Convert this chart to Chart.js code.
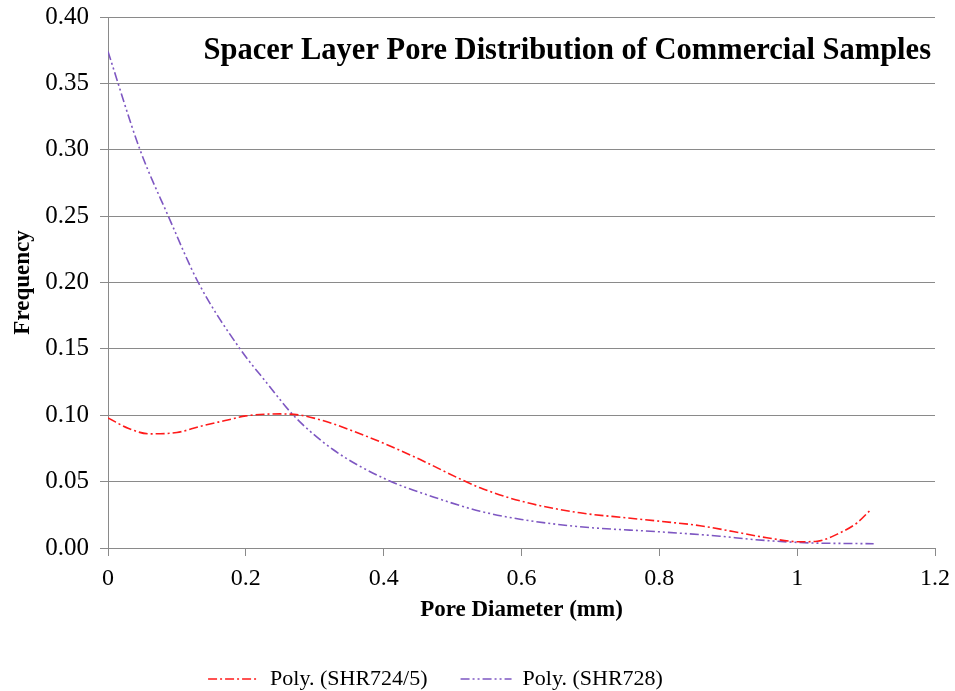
<!DOCTYPE html>
<html>
<head>
<meta charset="utf-8">
<script src="https://cdn.jsdelivr.net/npm/chart.js@4/dist/chart.umd.min.js"></script>
<style>
  html, body { margin: 0; padding: 0; background: #ffffff; }
  #wrap { width: 955px; height: 691px; }
</style>
</head>
<body>
<div id="wrap"><canvas id="c" width="955" height="691"></canvas></div>
<script>
// Polynomial trend curves of pore-size frequency for two spacer-layer samples
const chartTitle = 'Spacer Layer Pore Distribution of Commercial Samples';
const xAxisTitle = 'Pore Diameter (mm)';
const yAxisTitle = 'Frequency';
const seriesNames = ['Poly. (SHR724/5)', 'Poly. (SHR728)'];

const shr7245X = [0, 0.03, 0.06, 0.10, 0.134, 0.17, 0.20, 0.25, 0.28, 0.303, 0.33, 0.356, 0.404, 0.453, 0.511, 0.54, 0.60, 0.685, 0.753, 0.80, 0.859, 0.907, 0.956, 1.004, 1.029, 1.062, 1.087, 1.107];
const shr7245Y = [0.098, 0.090, 0.086, 0.087, 0.0917, 0.096, 0.0995, 0.101, 0.100, 0.0973, 0.093, 0.088, 0.078, 0.0666, 0.052, 0.0453, 0.0352, 0.0265, 0.0227, 0.0202, 0.0168, 0.0124, 0.0077, 0.0047, 0.0051, 0.0114, 0.019, 0.029];

const shr728X = [0, 0.0464, 0.0875, 0.131, 0.1916, 0.231, 0.269, 0.327, 0.404, 0.472, 0.54, 0.60, 0.685, 0.80, 0.888, 0.932, 1.004, 1.111];
const shr728Y = [0.374, 0.300, 0.250, 0.200, 0.150, 0.124, 0.100, 0.074, 0.0516, 0.0385, 0.0277, 0.0215, 0.016, 0.0122, 0.0089, 0.0066, 0.0041, 0.0032];

const xTickValues = [0, 0.2, 0.4, 0.6, 0.8, 1.0, 1.2];
const xTickLabels = ['0', '0.2', '0.4', '0.6', '0.8', '1', '1.2'];
const yTickValues = [0, 0.05, 0.10, 0.15, 0.20, 0.25, 0.30, 0.35, 0.40];
const yTickLabels = ['0.00', '0.05', '0.10', '0.15', '0.20', '0.25', '0.30', '0.35', '0.40'];

const serif = "'Liberation Serif', 'Times New Roman', serif";
const gridColor = '#8a8a8a';

function toPoints(xs, ys) {
  return xs.map((x, i) => ({ x: x, y: ys[i] }));
}

function labelFor(values, labels, v) {
  for (let i = 0; i < values.length; i++) {
    if (Math.abs(values[i] - v) < 1e-6) return labels[i];
  }
  return '';
}

// Title drawn inside the plot area, right-aligned near the top;
// the legend row is also nudged a little left of centre after layout.
const innerTitle = {
  id: 'innerTitle',
  afterLayout(chart) {
    const lg = chart.legend;
    if (lg) {
      lg.left -= 32;
      lg.right -= 32;
    }
  },
  afterDraw(chart) {
    const { ctx, chartArea } = chart;
    ctx.save();
    ctx.font = "bold 30.5px " + serif;
    ctx.fillStyle = '#000000';
    ctx.textAlign = 'right';
    ctx.textBaseline = 'alphabetic';
    ctx.fillText(chartTitle, chartArea.right - 4, chartArea.top + 42);
    ctx.restore();
  }
};

new Chart(document.getElementById('c'), {
  type: 'line',
  data: {
    datasets: [
      {
        label: seriesNames[0],
        data: toPoints(shr7245X, shr7245Y),
        borderColor: '#ff1a1a',
        backgroundColor: '#ff1a1a',
        borderWidth: 1.6,
        borderDash: [9, 3, 2, 3],
        pointRadius: 0,
        cubicInterpolationMode: 'monotone',
        fill: false
      },
      {
        label: seriesNames[1],
        data: toPoints(shr728X, shr728Y),
        borderColor: '#7e57c2',
        backgroundColor: '#7e57c2',
        borderWidth: 1.6,
        borderDash: [9, 3, 2, 3, 2, 3],
        pointRadius: 0,
        cubicInterpolationMode: 'monotone',
        fill: false
      }
    ]
  },
  options: {
    responsive: false,
    animation: false,
    layout: { padding: { top: 17, right: 20, left: 0, bottom: 0 } },
    plugins: {
      title: { display: false },
      tooltip: { enabled: false },
      legend: {
        display: true,
        position: 'bottom',
        maxHeight: 56,
        labels: {
          usePointStyle: true,
          pointStyle: 'line',
          pointStyleWidth: 51,
          boxHeight: 10,
          padding: 33,
          color: '#000000',
          font: { family: serif, size: 22 },
          generateLabels(chart) {
            const items = Chart.defaults.plugins.legend.labels.generateLabels(chart);
            items.forEach((item) => {
              const ds = chart.data.datasets[item.datasetIndex];
              item.lineDash = ds.borderDash;
              item.strokeStyle = ds.borderColor;
              item.lineWidth = ds.borderWidth;
            });
            return items;
          }
        }
      }
    },
    scales: {
      x: {
        type: 'linear',
        min: 0,
        max: 1.2,
        afterBuildTicks(scale) {
          scale.ticks = xTickValues.map(v => ({ value: v }));
        },
        afterFit(scale) {
          scale.height = 87;
          scale.paddingLeft = 0;
          scale.paddingRight = 0;
        },
        ticks: {
          color: '#000000',
          font: { family: serif, size: 24 },
          padding: 8,
          maxRotation: 0,
          autoSkip: false,
          callback: (v) => labelFor(xTickValues, xTickLabels, v)
        },
        grid: {
          drawOnChartArea: false,
          drawTicks: true,
          tickLength: 8,
          color: gridColor
        },
        border: { display: true, color: gridColor, width: 1 },
        title: {
          display: true,
          text: xAxisTitle,
          color: '#000000',
          font: { family: serif, size: 23, weight: 'bold' },
          padding: { top: 4, bottom: 11 }
        }
      },
      y: {
        type: 'linear',
        min: 0,
        max: 0.40,
        afterBuildTicks(scale) {
          scale.ticks = yTickValues.map(v => ({ value: v }));
        },
        afterFit(scale) {
          scale.width = 108;
          scale.paddingTop = 0;
          scale.paddingBottom = 0;
        },
        ticks: {
          color: '#000000',
          font: { family: serif, size: 25 },
          padding: 11,
          autoSkip: false,
          callback: (v) => labelFor(yTickValues, yTickLabels, v)
        },
        grid: {
          drawOnChartArea: true,
          drawTicks: true,
          tickLength: 8,
          color: gridColor,
          lineWidth: 1
        },
        border: { display: true, color: gridColor, width: 1 },
        title: {
          display: true,
          text: yAxisTitle,
          color: '#000000',
          font: { family: serif, size: 23, weight: 'bold' },
          padding: { top: 9, bottom: 4 }
        }
      }
    }
  },
  plugins: [innerTitle]
});
</script>
</body>
</html>
